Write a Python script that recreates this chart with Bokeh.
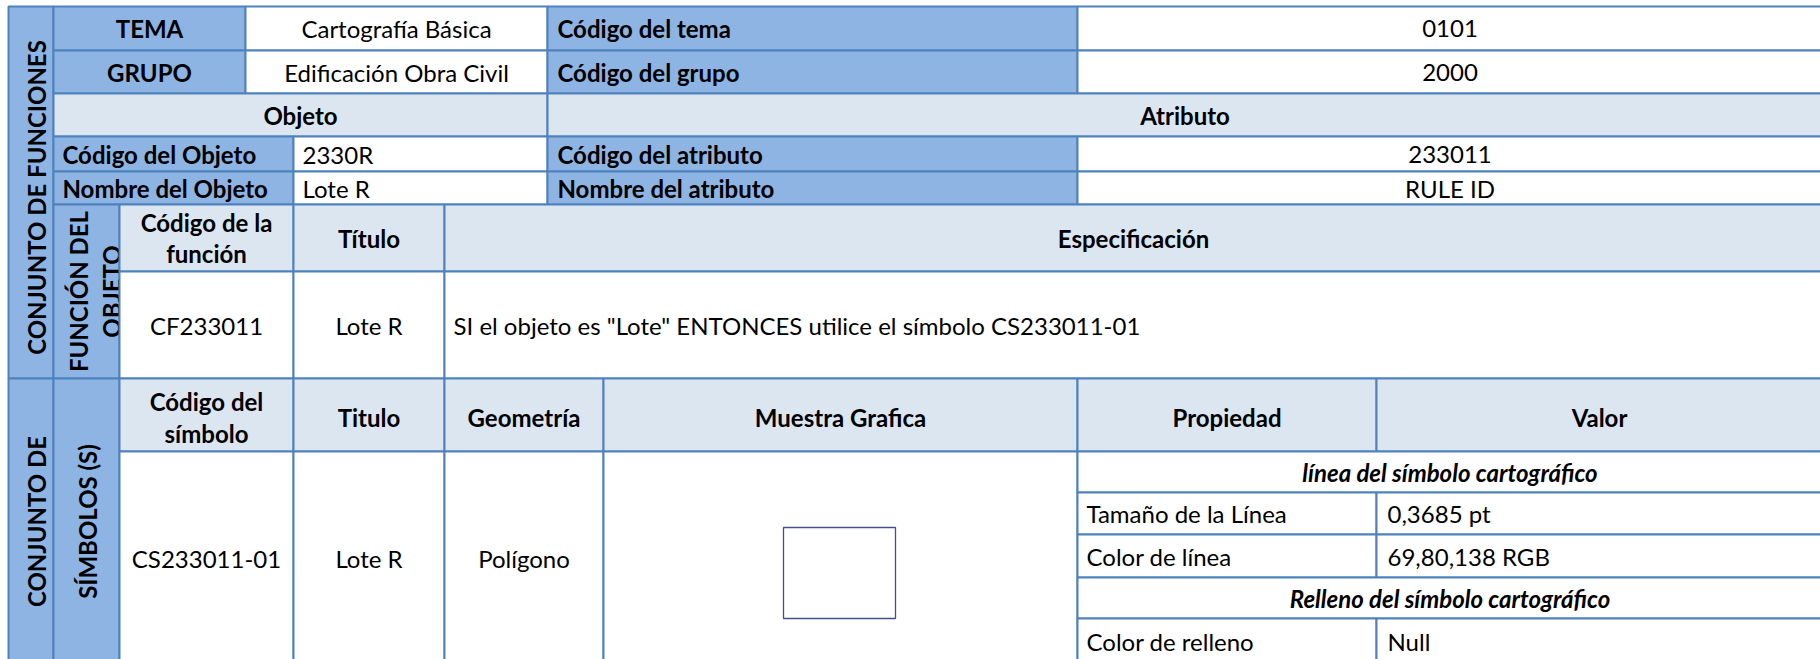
from math import pi
from bokeh.plotting import figure
from bokeh.models import Range1d, ColumnDataSource
from bokeh.core.properties import value
from bokeh.embed import file_html
from bokeh.resources import INLINE

# ---------------- data (texts of the table) ----------------
section_titles = ["CONJUNTO DE FUNCIONES", "CONJUNTO DE", "SÍMBOLOS (S)"]
function_side = ["FUNCIÓN DEL", "OBJETO"]
theme_labels = ["TEMA", "GRUPO"]
theme_values = ["Cartografía Básica", "Edificación Obra Civil"]
code_labels = ["Código del tema", "Código del grupo"]
code_values = ["0101", "2000"]
block_titles = ["Objeto", "Atributo"]
object_labels = ["Código del Objeto", "Nombre del Objeto"]
object_values = ["2330R", "Lote R"]
attribute_labels = ["Código  del atributo", "Nombre del atributo"]
attribute_values = ["233011", "RULE ID"]
function_headers = [["Código de la", "función"], ["Título"], ["Especificación"]]
function_row = ["CF233011", "Lote R",
                'SI el objeto es "Lote" ENTONCES utilice el símbolo CS233011-01']
symbol_headers = [["Código del", "símbolo"], ["Titulo"], ["Geometría"],
                  ["Muestra Grafica"], ["Propiedad"], ["Valor"]]
symbol_row = ["CS233011-01", "Lote R", "Polígono"]
property_groups = ["línea del símbolo cartográfico", "Relleno del símbolo cartográfico"]
property_names = ["Tamaño de la Línea", "Color de línea", "Color de relleno"]
property_values = ["0,3685 pt", "69,80,138 RGB", "Null"]
sample_line_rgb = (69, 80, 138)

# ---------------- layout (grid lines, reference pixels) ----------------
X0, X1, X2, X3, X4, X5, X6, X7, X8, X9, XR = 8, 53, 119, 245, 293, 444, 547, 603, 1077, 1376, 1822
Y0, Y1, Y2, Y3, Y4, Y5, Y6, Y7, Y8, Y9, Y10, Y11, Y12, YB = (
    6, 50, 93, 136, 171, 204, 271, 378, 451, 492, 534, 577, 618, 664)

DARK = "#8DB4E2"
LIGHT = "#DCE6F1"
WHITE = "#FFFFFF"
BORDER = "#4F81BD"
FONT = "Lato"
FS = "24px"
PAD = 9

p = figure(width=1820, height=659, output_backend="svg", toolbar_location=None,
           x_range=Range1d(0, 1820), y_range=Range1d(659, 0),
           min_border=0, background_fill_color=WHITE)
p.axis.visible = False
p.grid.visible = False
p.outline_line_color = None

cells = []  # (left, right, top, bottom, fill)
cover = []


def cell(l, r, t, b, c, target=None):
    (cells if target is None else target).append((l, r, t, b, c))


cell(X0, X1, Y0, Y7, DARK)
for t, b in [(Y0, Y1), (Y1, Y2)]:
    cell(X1, X3, t, b, DARK)
    cell(X3, X6, t, b, WHITE)
    cell(X6, X8, t, b, DARK)
    cell(X8, XR, t, b, WHITE)
cell(X1, X6, Y2, Y3, LIGHT)
cell(X6, XR, Y2, Y3, LIGHT)
for t, b in [(Y3, Y4), (Y4, Y5)]:
    cell(X1, X4, t, b, DARK)
    cell(X4, X6, t, b, WHITE)
    cell(X6, X8, t, b, DARK)
    cell(X8, XR, t, b, WHITE)
cell(X1, X2, Y5, Y7, DARK)
cell(X0, X1, Y7, YB, DARK)
cell(X1, X2, Y7, YB, DARK)
# function / symbol tables (drawn after the side text so they clip it)
fx = [X2, X4, X5, XR]
for j in range(3):
    cell(fx[j], fx[j + 1], Y5, Y6, LIGHT, cover)
    cell(fx[j], fx[j + 1], Y6, Y7, WHITE, cover)
sx = [X2, X4, X5, X7, X8, X9, XR]
for j in range(6):
    cell(sx[j], sx[j + 1], Y7, Y8, LIGHT, cover)
for j in range(4):
    cell(sx[j], sx[j + 1], Y8, YB, WHITE, cover)
cell(X8, XR, Y8, Y9, WHITE, cover)
cell(X8, X9, Y9, Y10, WHITE, cover)
cell(X9, XR, Y9, Y10, WHITE, cover)
cell(X8, X9, Y10, Y11, WHITE, cover)
cell(X9, XR, Y10, Y11, WHITE, cover)
cell(X8, XR, Y11, Y12, WHITE, cover)
cell(X8, X9, Y12, YB, WHITE, cover)
cell(X9, XR, Y12, YB, WHITE, cover)


def draw_cells(lst):
    src = ColumnDataSource(dict(l=[c[0] for c in lst], r=[c[1] for c in lst],
                                t=[c[2] for c in lst], b=[c[3] for c in lst],
                                f=[c[4] for c in lst]))
    p.quad(left="l", right="r", top="t", bottom="b", fill_color="f",
           line_color=BORDER, line_width=2, source=src)


texts = []  # (x, y, text, align, style, angle)


def txt(x, y, s, align="center", style="normal", angle=0.0):
    texts.append((x, y, s, align, style, angle))


def draw_texts(lst):
    for style in ["normal", "bold", "bold italic"]:
        for angle in [0.0, pi / 2]:
            for align in ["left", "center"]:
                sel = [t for t in lst if t[4] == style and t[5] == angle and t[3] == align]
                if not sel:
                    continue
                src = ColumnDataSource(dict(x=[t[0] for t in sel], y=[t[1] for t in sel],
                                            s=[t[2] for t in sel]))
                p.text(x="x", y="y", text="s", source=src, angle=angle,
                       text_font=value(FONT), text_font_size=FS,
                       text_font_style=style, text_align=align,
                       text_baseline="middle", text_color="#000000")


draw_cells(cells)

# rotated side texts
txt(36, (Y0 + Y7) / 2 + 5, section_titles[0], style="bold", angle=pi / 2)
txt(36, (Y7 + YB) / 2, section_titles[1], style="bold", angle=pi / 2)
txt(87, (Y7 + YB) / 2, section_titles[2], style="bold", angle=pi / 2)
txt(78, (Y5 + Y7) / 2, function_side[0], style="bold", angle=pi / 2)
txt(111, (Y5 + Y7) / 2, function_side[1], style="bold", angle=pi / 2)
draw_texts(texts)
texts = []

draw_cells(cover)

# top block
for i, (t, b) in enumerate([(Y0, Y1), (Y1, Y2)]):
    ym = (t + b) / 2
    txt((X1 + X3) / 2, ym, theme_labels[i], style="bold")
    txt((X3 + X6) / 2, ym, theme_values[i])
    txt(X6 + 10, ym, code_labels[i], align="left", style="bold")
    txt((X8 + XR) / 2, ym, code_values[i])
txt((X1 + X6) / 2, (Y2 + Y3) / 2, block_titles[0], style="bold")
txt((X6 + XR) / 2, (Y2 + Y3) / 2, block_titles[1], style="bold")
for i, (t, b) in enumerate([(Y3, Y4), (Y4, Y5)]):
    ym = (t + b) / 2
    txt(X1 + PAD, ym, object_labels[i], align="left", style="bold")
    txt(X4 + PAD, ym, object_values[i], align="left")
    txt(X6 + 10, ym, attribute_labels[i], align="left", style="bold")
    txt((X8 + XR) / 2, ym, attribute_values[i])

# function table
for j, lines in enumerate(function_headers):
    xc = (fx[j] + fx[j + 1]) / 2
    ym = (Y5 + Y6) / 2
    n = len(lines)
    for k, s in enumerate(lines):
        txt(xc, ym + (k - (n - 1) / 2) * 31, s, style="bold")
txt((X2 + X4) / 2, (Y6 + Y7) / 2, function_row[0])
txt((X4 + X5) / 2, (Y6 + Y7) / 2, function_row[1])
txt(X5 + PAD, (Y6 + Y7) / 2, function_row[2], align="left")

# symbol table
for j, lines in enumerate(symbol_headers):
    xc = (sx[j] + sx[j + 1]) / 2
    ym = (Y7 + Y8) / 2
    n = len(lines)
    for k, s in enumerate(lines):
        txt(xc, ym + 2 + (k - (n - 1) / 2) * 32, s, style="bold")
for j, s in enumerate(symbol_row):
    txt((sx[j] + sx[j + 1]) / 2, (Y8 + YB) / 2, s)
txt((X8 + XR) / 2, (Y8 + Y9) / 2, property_groups[0], style="bold italic")
txt((X8 + XR) / 2, (Y11 + Y12) / 2, property_groups[1], style="bold italic")
for (t, b), name, val in zip([(Y9, Y10), (Y10, Y11), (Y12, YB)], property_names, property_values):
    ym = (t + b) / 2
    txt(X8 + PAD, ym, name, align="left")
    txt(X9 + 11, ym, val, align="left")
draw_texts(texts)

# graphic sample (square polygon symbol)
p.quad(left=[783], right=[895], top=[527], bottom=[618], fill_color=WHITE,
       line_color="#%02X%02X%02X" % sample_line_rgb, line_width=1.3)

open("out.html", "w").write(file_html(p, INLINE))
